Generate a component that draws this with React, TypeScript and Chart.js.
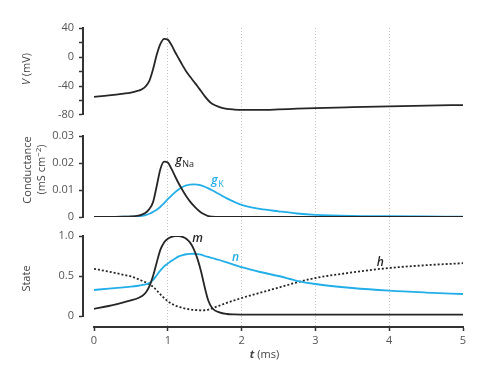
import React, { useEffect, useRef } from 'react';
import { Chart, registerables } from 'chart.js';

Chart.register(...registerables);

// ---- data (time in ms) ----
const timeMs = [0, 0.2, 0.4, 0.5, 0.6, 0.65, 0.7, 0.75, 0.8, 0.85, 0.9, 0.95, 1.0, 1.05, 1.1, 1.15, 1.2, 1.25, 1.3, 1.35, 1.4, 1.45, 1.5, 1.55, 1.6, 1.7, 1.8, 1.9, 2.0, 2.25, 2.5, 2.75, 3.0, 3.5, 4.0, 4.5, 5.0];

const voltage = [-55, -53, -50.5, -49, -46.5, -44.5, -40.5, -33, -17, 3, 18, 25, 24, 16.5, 6.5, -2.5, -11.5, -20, -27, -33.5, -40, -47, -54, -60, -64.5, -69, -71.5, -72.5, -73, -73, -72.3, -71.3, -70.5, -69.2, -68, -67, -66.3];

const gNa = [0, 0, 0.0001, 0.0002, 0.0005, 0.0009, 0.0016, 0.003, 0.0055, 0.0115, 0.0178, 0.0205, 0.0202, 0.0178, 0.015, 0.0123, 0.0099, 0.0077, 0.0058, 0.0042, 0.0028, 0.0017, 0.0009, 0.0003, 0.0001, 0, 0, 0, 0, 0, 0, 0, 0, 0, 0, 0, 0];

const gK = [0, 0, 0.0001, 0.0001, 0.0003, 0.0004, 0.0007, 0.0012, 0.0019, 0.0027, 0.0038, 0.0051, 0.0066, 0.0079, 0.0092, 0.0103, 0.0111, 0.0117, 0.012, 0.0121, 0.012, 0.0117, 0.0112, 0.0106, 0.0099, 0.0084, 0.0069, 0.0056, 0.0045, 0.003, 0.0021, 0.0013, 0.0008, 0.0004, 0.0003, 0.0002, 0.0001];

const mGate = [0.09, 0.125, 0.17, 0.195, 0.225, 0.25, 0.29, 0.37, 0.5, 0.67, 0.83, 0.92, 0.965, 0.99, 1.0, 1.0, 0.99, 0.965, 0.92, 0.84, 0.72, 0.56, 0.36, 0.19, 0.1, 0.045, 0.025, 0.02, 0.018, 0.016, 0.016, 0.016, 0.016, 0.016, 0.016, 0.016, 0.016];

const nGate = [0.325, 0.343, 0.358, 0.366, 0.378, 0.386, 0.396, 0.413, 0.45, 0.51, 0.57, 0.62, 0.655, 0.69, 0.72, 0.745, 0.76, 0.772, 0.777, 0.778, 0.774, 0.766, 0.75, 0.738, 0.725, 0.7, 0.67, 0.64, 0.61, 0.55, 0.5, 0.44, 0.4, 0.35, 0.316, 0.293, 0.275];

const hGate = [0.59, 0.555, 0.515, 0.495, 0.46, 0.44, 0.42, 0.395, 0.365, 0.32, 0.27, 0.225, 0.185, 0.155, 0.13, 0.115, 0.1, 0.09, 0.083, 0.077, 0.073, 0.071, 0.072, 0.08, 0.095, 0.13, 0.165, 0.195, 0.225, 0.29, 0.355, 0.42, 0.475, 0.545, 0.6, 0.635, 0.66];

// curve labels (data coordinates)
const labelTexts = ['g', 'g', 'm', 'n', 'h'];
const labelSubs = ['Na', 'K', '', '', ''];
const labelTimes = [1.103, 1.59, 1.33, 1.87, 3.83];
const labelValues = [0.0198, 0.01234, 0.92, 0.6825, 0.62];
const labelAxes = ['yC', 'yC', 'yS', 'yS', 'yS'];

const BLACK = '#262626';
const BLUE = '#22aee8';
const AXIS = '#333333';
const TEXT = '#555555';
const FONT = '"Open Sans", sans-serif';
const labelColors = [BLACK, BLUE, BLACK, BLUE, BLACK];

const mkSeries = (values: number[]) => timeMs.map((t, i) => ({ x: t, y: values[i] }));

const line = (values: number[], axis: string, color: string, dash: number[] = []) => ({
  data: mkSeries(values),
  yAxisID: axis,
  borderColor: color,
  borderWidth: 1.8,
  borderDash: dash,
  pointRadius: 0,
  fill: false,
  cubicInterpolationMode: 'monotone' as const,
});

const tickFont = { family: FONT, size: 11 };

const yPanel = (min: number, max: number, step: number, weight: number, fmt: (v: number) => string) => ({
  type: 'linear' as const,
  position: 'left' as const,
  stack: 'panels',
  stackWeight: weight,
  weight: 1,
  min,
  max,
  ticks: { stepSize: step, autoSkip: false, color: TEXT, font: tickFont, padding: 5, callback: (v: any) => fmt(Number(v)) },
  grid: { drawOnChartArea: false, drawTicks: true, tickLength: 4, tickColor: AXIS, tickWidth: 1.5, color: AXIS },
  border: { display: true, color: AXIS, width: 2 },
  afterFit: (s: any) => { s.width = 83; },
});

const yGap = (weight: number) => ({
  type: 'linear' as const,
  position: 'left' as const,
  stack: 'panels',
  stackWeight: weight,
  weight: 1,
  min: 0,
  max: 1,
  display: false,
  afterFit: (s: any) => { s.width = 83; },
});

function drawRotated(ctx: CanvasRenderingContext2D, cx: number, cy: number, segs: { text: string; font: string; dy?: number }[]) {
  ctx.save();
  ctx.translate(cx, cy);
  ctx.rotate(-Math.PI / 2);
  let total = 0;
  for (const s of segs) { ctx.font = s.font; total += ctx.measureText(s.text).width; }
  let x = -total / 2;
  ctx.textBaseline = 'middle';
  ctx.textAlign = 'left';
  for (const s of segs) {
    ctx.font = s.font;
    ctx.fillText(s.text, x, s.dy || 0);
    x += ctx.measureText(s.text).width;
  }
  ctx.restore();
}

const textPlugin = {
  id: 'hhText',
  afterDatasetsDraw(chart: any) {
    const ctx: CanvasRenderingContext2D = chart.ctx;
    const xs = chart.scales.x;
    // curve labels
    for (let i = 0; i < labelTexts.length; i++) {
      const ys = chart.scales[labelAxes[i]];
      const px = xs.getPixelForValue(labelTimes[i]);
      const py = ys.getPixelForValue(labelValues[i]);
      ctx.save();
      ctx.fillStyle = labelColors[i];
      ctx.textAlign = 'left';
      ctx.textBaseline = 'alphabetic';
      ctx.font = `italic 600 12px ${FONT}`;
      ctx.fillText(labelTexts[i], px, py);
      if (labelSubs[i]) {
        const w = ctx.measureText(labelTexts[i]).width;
        ctx.font = `9px ${FONT}`;
        ctx.fillText(labelSubs[i], px + w + 0.5, py + 3);
      }
      ctx.restore();
    }
    // axis titles
    ctx.save();
    ctx.fillStyle = '#444';
    const yV = chart.scales.yV, yC = chart.scales.yC, yS = chart.scales.yS;
    const reg = `11px ${FONT}`;
    const ita = `italic 11px ${FONT}`;
    drawRotated(ctx, 27, (yV.top + yV.bottom) / 2 - 2.5, [{ text: 'V', font: ita }, { text: ' (mV)', font: reg }]);
    drawRotated(ctx, 28, (yC.top + yC.bottom) / 2 - 6.5, [{ text: 'Conductance', font: reg }]);
    drawRotated(ctx, 42, (yC.top + yC.bottom) / 2 - 7, [
      { text: '(mS cm', font: reg },
      { text: '\u22122', font: `8px ${FONT}`, dy: -3 },
      { text: ')', font: reg },
    ]);
    drawRotated(ctx, 27, (yS.top + yS.bottom) / 2 + 2.5, [{ text: 'State', font: reg }]);
    // x title
    ctx.textBaseline = 'alphabetic';
    ctx.textAlign = 'left';
    ctx.font = `italic bold 11px ${FONT}`;
    const tw = ctx.measureText('t').width;
    ctx.font = reg;
    const rw = ctx.measureText(' (ms)').width;
    const start = (xs.left + xs.right) / 2 - 14 - (tw + rw) / 2;
    ctx.font = `italic bold 11px ${FONT}`;
    ctx.fillText('t', start, 357.5);
    ctx.font = reg;
    ctx.fillText(' (ms)', start + tw, 357.5);
    ctx.restore();
  },
};

export default function App() {
  const ref = useRef<HTMLCanvasElement>(null);
  useEffect(() => {
    document.body.style.margin = '0';
    if (!ref.current) return;
    const chart = new Chart(ref.current, {
      type: 'line',
      data: {
        datasets: [
          line(voltage, 'yV', BLACK),
          line(gNa, 'yC', BLACK),
          line(gK, 'yC', BLUE),
          line(mGate, 'yS', BLACK),
          line(nGate, 'yS', BLUE),
          line(hGate, 'yS', BLACK, [2, 2]),
        ] as any,
      },
      options: {
        animation: false,
        responsive: false,
        events: [],
        layout: { padding: { left: 0, right: 17, top: 28, bottom: 10 } },
        plugins: { legend: { display: false }, tooltip: { enabled: false } },
        scales: {
          x: {
            type: 'linear',
            position: 'bottom',
            min: 0,
            max: 5,
            ticks: { stepSize: 1, autoSkip: false, color: TEXT, font: tickFont, padding: 3, callback: (v: any) => String(v) },
            grid: {
              color: (c: any) => (c.tick && (c.tick.value === 0 || c.tick.value === 5) ? 'rgba(0,0,0,0)' : '#c4c4c4'),
              lineWidth: 1,
              drawTicks: true,
              tickLength: 4,
              tickColor: AXIS,
              tickWidth: 1.5,
            },
            border: { display: true, color: AXIS, width: 2, dash: [1, 2] },
            afterFit: (s: any) => { s.height = 35; },
          },
          gap3: yGap(11),
          yS: yPanel(0, 1, 0.5, 80, (v) => (v === 0 ? '0' : v.toFixed(1))),
          gap2: yGap(19),
          yC: yPanel(0, 0.03, 0.01, 81, (v) => (v === 0 ? '0' : v.toFixed(2))),
          gap1: yGap(21),
          yV: yPanel(-80, 40, 20, 87, (v) => (Math.round(v) % 40 === 0 ? String(Math.round(v)) : '')),
          padX: {
            type: 'linear',
            position: 'left',
            weight: 0,
            min: 0,
            max: 1,
            display: false,
            afterFit: (s: any) => { s.width = 11; },
          },
        } as any,
      },
      plugins: [textPlugin],
    });
    return () => chart.destroy();
  }, []);
  return (
    <div style={{ width: 480, height: 372 }}>
      <canvas ref={ref} width={480} height={372} style={{ display: 'block' }} />
    </div>
  );
}
